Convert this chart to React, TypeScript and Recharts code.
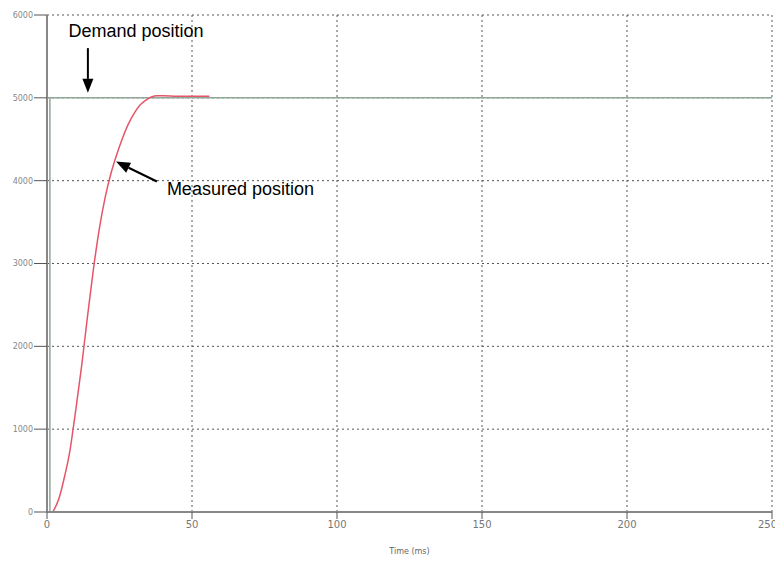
import React from "react";
import {
  LineChart,
  Line,
  XAxis,
  YAxis,
  CartesianGrid,
  ReferenceLine,
  ReferenceDot,
} from "recharts";

// time in ms, position in counts
const demandTime = [0, 1, 1, 250];
const demandPos = [0, 0, 5000, 5000];

const measuredTime = [2, 4, 6, 8, 9, 10, 12, 14, 16, 18, 20, 22, 24, 26, 28, 30, 32, 34, 36, 38, 40, 45, 50, 56];
const measuredPos = [0, 150, 420, 760, 1000, 1250, 1780, 2370, 2930, 3410, 3790, 4080, 4310, 4510, 4680, 4810, 4910, 4970, 5010, 5025, 5025, 5020, 5020, 5020];

const xTicks = [0, 50, 100, 150, 200, 250];
const yTicks = [0, 1000, 2000, 3000, 4000, 5000, 6000];

const demandData = demandTime.map((t, i) => ({ t, v: demandPos[i] }));
const measuredData = measuredTime.map((t, i) => ({ t, v: measuredPos[i] }));

const font = "'Liberation Sans', Arial, sans-serif";

// draws a line with a filled arrow head at (x2, y2)
const Arrow = (props: any) => {
  const { x1, y1, x2, y2 } = props;
  if ([x1, y1, x2, y2].some((n) => typeof n !== "number")) return null;
  const ang = Math.atan2(y2 - y1, x2 - x1);
  const len = 14;
  const w = 5.5;
  const bx = x2 - len * Math.cos(ang);
  const by = y2 - len * Math.sin(ang);
  const px = -Math.sin(ang) * w;
  const py = Math.cos(ang) * w;
  return (
    <g>
      <line x1={x1} y1={y1} x2={bx} y2={by} stroke="#000" strokeWidth={2} />
      <polygon
        points={`${x2},${y2} ${bx + px},${by + py} ${bx - px},${by - py}`}
        fill="#000"
      />
    </g>
  );
};

const App: React.FC = () => {
  return (
    <div style={{ position: "absolute", left: 0, top: 0, background: "#fff" }}>
      <LineChart
        width={775}
        height={564}
        margin={{ top: 15, right: 3, bottom: 0, left: 0 }}
      >
        <CartesianGrid stroke="#555" strokeDasharray="2 3" />
        <XAxis
          type="number"
          dataKey="t"
          domain={[0, 250]}
          ticks={xTicks}
          height={52}
          tickSize={7}
          tickMargin={2}
          axisLine={{ stroke: "#888", strokeWidth: 2 }}
          tickLine={{ stroke: "#555" }}
          tick={{ fontSize: 10, fill: "#777", fontFamily: "DejaVu Sans" }}
          label={{
            value: "Time (ms)",
            position: "insideBottom",
            offset: 10,
            fontSize: 8,
            fill: "#666",
            fontFamily: "DejaVu Sans",
          }}
        />
        <YAxis
          type="number"
          dataKey="v"
          domain={[0, 6000]}
          ticks={yTicks}
          width={47}
          tickSize={13}
          tickMargin={1}
          axisLine={{ stroke: "#888", strokeWidth: 2 }}
          tickLine={{ stroke: "#555" }}
          tick={{ fontSize: 8, fill: "#888", fontFamily: "DejaVu Sans" }}
        />
        <Line
          data={demandData}
          dataKey="v"
          type="linear"
          stroke="#8fa89a"
          strokeWidth={1.5}
          dot={false}
          isAnimationActive={false}
        />
        <Line
          data={measuredData}
          dataKey="v"
          type="monotone"
          stroke="#e5566a"
          strokeWidth={1.5}
          dot={false}
          isAnimationActive={false}
        />
        <ReferenceLine
          segment={[
            { x: 14.1, y: 5600 },
            { x: 14.1, y: 5060 },
          ]}
          shape={Arrow}
        />
        <ReferenceLine
          segment={[
            { x: 37.9, y: 3990 },
            { x: 23.8, y: 4230 },
          ]}
          shape={Arrow}
        />
        <ReferenceDot
          x={30.7}
          y={5810}
          r={0}
          stroke="none"
          label={{
            value: "Demand position",
            position: "center",
            fontSize: 18,
            fill: "#000",
            fontFamily: font,
          }}
        />
        <ReferenceDot
          x={66.7}
          y={3910}
          r={0}
          stroke="none"
          label={{
            value: "Measured position",
            position: "center",
            fontSize: 18,
            fill: "#000",
            fontFamily: font,
          }}
        />
      </LineChart>
    </div>
  );
};

export default App;
